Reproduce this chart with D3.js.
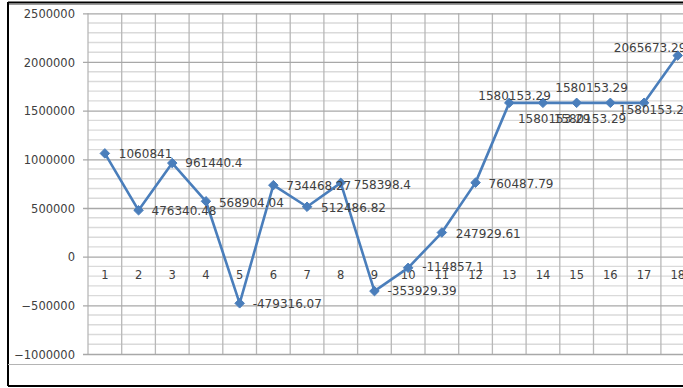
<!DOCTYPE html>
<html>
<head>
<meta charset="utf-8">
<script src="https://cdn.jsdelivr.net/npm/d3@7"></script>
<style>
  html, body { margin: 0; padding: 0; background: #fff; }
  svg { display: block; }
  text { font-family: "DejaVu Sans", Verdana, sans-serif; fill: #404040; }
</style>
</head>
<body>
<svg id="chart" width="683" height="388"></svg>
<script>
// Categories (periods) and the series value for each
const categories = [1, 2, 3, 4, 5, 6, 7, 8, 9, 10, 11, 12, 13, 14, 15, 16, 17, 18];
const values = [
  1060841, 476340.48, 961440.4, 568904.04, -479316.07, 734468.27,
  512486.82, 758398.4, -353929.39, -114857.1, 247929.61, 760487.79,
  1580153.29, 1580153.29, 1580153.29, 1580153.29, 1580153.29, 2065673.29
];
const labelTexts = [
  "1060841", "476340.48", "961440.4", "568904.04", "-479316.07", "734468.27",
  "512486.82", "758398.4", "-353929.39", "-114857.1", "247929.61", "760487.79",
  "1580153.29", "1580153.29", "1580153.29", "1580153.29", "1580153.29", "2065673.29"
];
const yTicks = [-1000000, -500000, 0, 500000, 1000000, 1500000, 2000000, 2500000];

// Data-label placement (offset of the text start from its marker)
const labelPlacement = [
  [14, 0], [13, 1], [13, 0], [13, 2], [13, 0], [13, 1],
  [14, 1], [13, 2], [13, 0], [14, -1], [14, 1], [13, 1],
  [-31, -7], [-25, 16], [-23, 16], [-55, -15], [-25, 7], [-64, -8]
];

const svg = d3.select("#chart");
const W = 683, H = 388;

const left = 88, step = 33.7;
const x = d3.scaleBand()
  .domain(categories)
  .range([left, left + step * categories.length])
  .paddingInner(0).paddingOuter(0);
const cx = d => x(d) + x.bandwidth() / 2;

const y = d3.scaleLinear().domain([-1000000, 2500000]).range([354, 13.3]);

// Outer frame and the lower divider line
svg.append("line").attr("x1", 8).attr("x2", W).attr("y1", 2.5).attr("y2", 2.5)
  .attr("stroke", "#000").attr("stroke-width", 2);
svg.append("line").attr("x1", 8).attr("x2", W).attr("y1", 4.5).attr("y2", 4.5)
  .attr("stroke", "#9a9a9a").attr("stroke-width", 1);
svg.append("line").attr("x1", 8).attr("x2", 8).attr("y1", 2).attr("y2", 386)
  .attr("stroke", "#000").attr("stroke-width", 2);
svg.append("line").attr("x1", 8).attr("x2", W).attr("y1", 386).attr("y2", 386)
  .attr("stroke", "#000").attr("stroke-width", 2);
svg.append("line").attr("x1", 8).attr("x2", W).attr("y1", 364.5).attr("y2", 364.5)
  .attr("stroke", "#b4b4b4").attr("stroke-width", 1.2);

const grid = svg.append("g");
const right = left + step * categories.length;

// Minor horizontal gridlines every 100000
const minor = d3.range(-1000000, 2500001, 100000).filter(v => v % 500000 !== 0);
grid.selectAll("line.minor").data(minor).enter().append("line")
  .attr("x1", left).attr("x2", right)
  .attr("y1", d => y(d)).attr("y2", d => y(d))
  .attr("stroke", "#dadada").attr("stroke-width", 1.4);

// Vertical gridlines on category boundaries
const bounds = categories.map(c => x(c)).concat([right]);
grid.selectAll("line.v").data(bounds).enter().append("line")
  .attr("x1", d => d).attr("x2", d => d)
  .attr("y1", y(2500000)).attr("y2", y(-1000000))
  .attr("stroke", "#b8b8b8").attr("stroke-width", 1.3);

// Major horizontal gridlines with ticks on the value axis
const yAxis = d3.axisLeft(y).tickValues(yTicks).tickSize(-(right - left)).tickPadding(0)
  .tickFormat(d3.format("d"));
const ya = svg.append("g").attr("transform", `translate(${left},0)`).call(yAxis);
ya.select(".domain").remove();
ya.selectAll(".tick line").attr("stroke", "#a8a8a8").attr("stroke-width", 1.3)
  .attr("x1", -5);
ya.selectAll(".tick text")
  .attr("x", -13).attr("dy", "0.35em")
  .style("font-size", "11.5px").style("font-family", "DejaVu Sans, sans-serif")
  .attr("fill", "#404040");

// Category labels just under the zero line
const xAxis = d3.axisBottom(x).tickSize(0).tickPadding(0);
const xa = svg.append("g").attr("transform", `translate(0,${y(0)})`).call(xAxis);
xa.select(".domain").remove();
xa.selectAll(".tick text")
  .attr("y", 18).attr("dy", "0.35em")
  .style("font-size", "11.5px").style("font-family", "DejaVu Sans, sans-serif")
  .attr("fill", "#404040");

// Series line
const pts = categories.map((c, i) => ({ c, v: values[i], t: labelTexts[i], p: labelPlacement[i] }));
const line = d3.line().x(d => cx(d.c)).y(d => y(d.v));
svg.append("path").datum(pts)
  .attr("d", line).attr("fill", "none")
  .attr("stroke", "#4a7ebb").attr("stroke-width", 2.6)
  .attr("stroke-linejoin", "round");

// Diamond markers
const diamond = d3.symbol().type(d3.symbolDiamond2).size(58);
svg.selectAll("path.mk").data(pts).enter().append("path")
  .attr("d", diamond)
  .attr("transform", d => `translate(${cx(d.c)},${y(d.v)})`)
  .attr("fill", "#4a7ebb").attr("stroke", "#4a7ebb").attr("stroke-width", 1);

// Data labels
svg.selectAll("text.lbl").data(pts).enter().append("text")
  .attr("x", d => cx(d.c) + d.p[0])
  .attr("y", d => y(d.v) + d.p[1])
  .attr("dy", "0.35em")
  .style("font-size", "12px")
  .attr("fill", "#404040")
  .text(d => d.t);
</script>
</body>
</html>
